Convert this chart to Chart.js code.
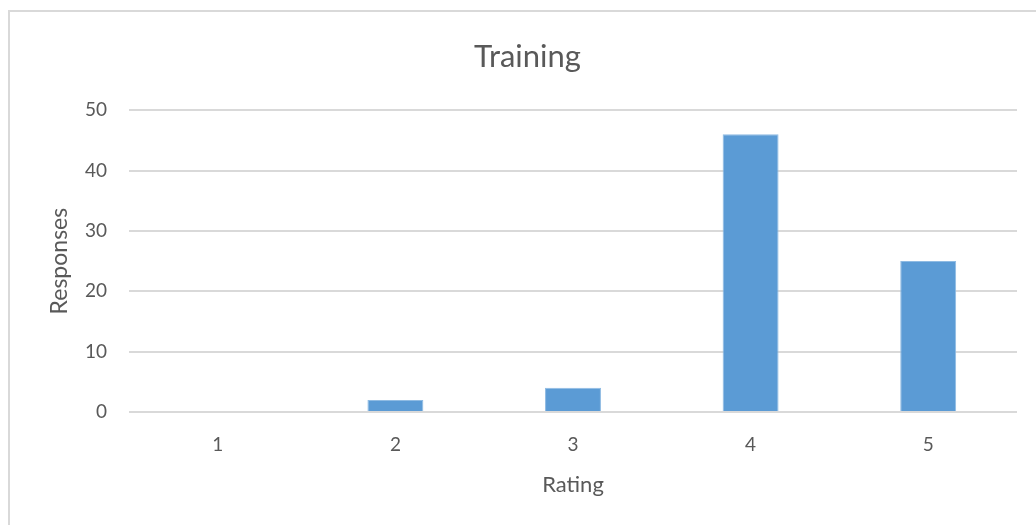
<!DOCTYPE html>
<html>
<head>
<meta charset="utf-8">
<script src="https://cdn.jsdelivr.net/npm/chart.js@4"></script>
<style>
  body { margin: 0; overflow: hidden; background: #fff; }
  #frame { position: absolute; left: 8px; top: 10px; width: 1100px; height: 600px; border: 2px solid #d9d9d9; }
  #chart { position: absolute; left: 0; top: 0; }
</style>
</head>
<body>
<div id="frame"></div>
<canvas id="chart" width="1036" height="525"></canvas>
<script>
// Training ratings
const ratings = ["1", "2", "3", "4", "5"];
const responses = [0, 2, 4, 46, 25];
const yTicks = [0, 10, 20, 30, 40, 50];

const grey = "#595959";
const font = "Lato, 'Open Sans', sans-serif";

new Chart(document.getElementById("chart"), {
    type: "bar",
    data: {
        labels: ratings,
        datasets: [{
            label: "Responses",
            data: responses,
            backgroundColor: "#5b9bd5",
            borderColor: "#8fbbe3",
            borderWidth: 1,
            barPercentage: 0.63,
            categoryPercentage: 0.5
        }]
    },
    options: {
        responsive: false,
        animation: false,
        layout: { padding: { top: 10, left: 38, right: 19, bottom: 0 } },
        plugins: {
            legend: { display: false },
            tooltip: { enabled: false },
            title: {
                display: true,
                text: "Training",
                color: grey,
                font: { family: font, size: 31, weight: "normal" },
                padding: { top: 28, bottom: 35 }
            }
        },
        scales: {
            x: {
                grid: { display: false, drawTicks: false },
                border: { display: false },
                ticks: { color: grey, font: { family: font, size: 19 }, padding: 21 },
                title: {
                    display: true, text: "Rating", color: grey,
                    font: { family: font, size: 22 },
                    padding: { top: 0, bottom: 27 }
                },
                afterFit: s => { s.height = 113; }
            },
            y: {
                min: 0, max: 50,
                afterBuildTicks: s => { s.ticks = yTicks.map(v => ({ value: v })); },
                grid: { color: "#d9d9d9", lineWidth: 2, drawTicks: false },
                border: { display: false },
                ticks: { color: grey, font: { family: font, size: 19 }, padding: 22 },
                title: {
                    display: true, text: "Responses", color: grey,
                    font: { family: font, size: 23 },
                    padding: { top: 8, bottom: 0 }
                },
                afterFit: s => { s.width = 91; }
            }
        }
    }
});
</script>
</body>
</html>
